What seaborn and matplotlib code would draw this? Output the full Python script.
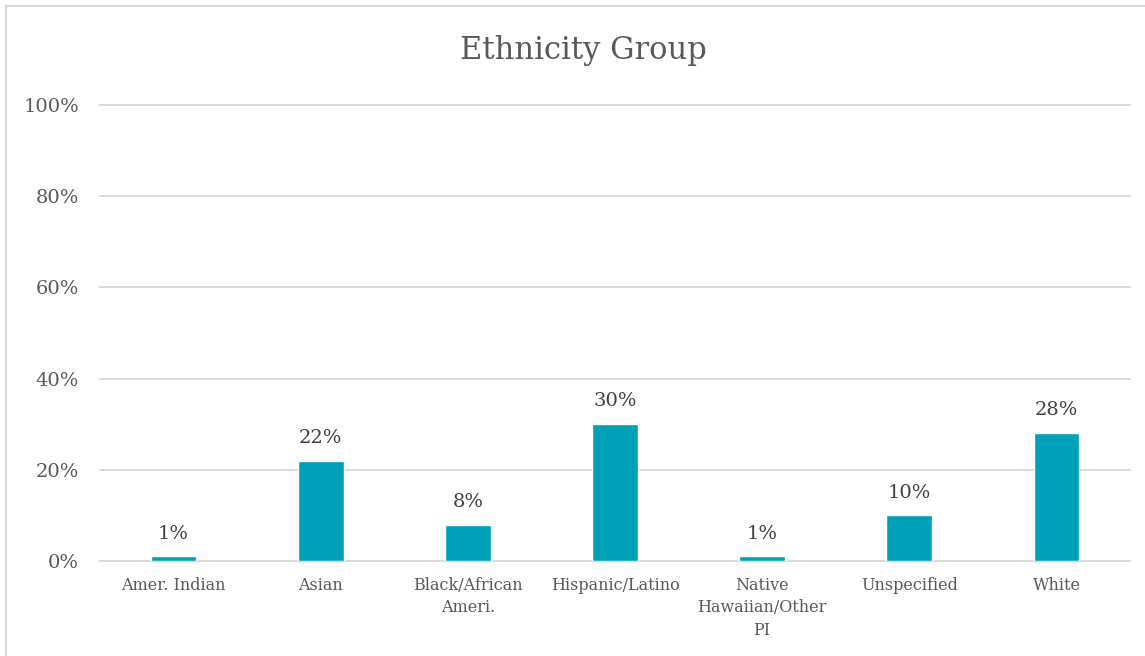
import matplotlib
matplotlib.use("Agg")
import matplotlib.pyplot as plt
from matplotlib.patches import Rectangle
import seaborn as sns
import pandas as pd

categories = ["Amer. Indian", "Asian", "Black/African\nAmeri.", "Hispanic/Latino",
              "Native\nHawaiian/Other\nPI", "Unspecified", "White"]
shares = [1, 22, 8, 30, 1, 10, 28]
ytick_values = [0, 20, 40, 60, 80, 100]

BAR = "#00A0B8"
TEXT = "#595959"
GRID = "#D9D9D9"

sns.set_theme(style="white")
plt.rcParams["font.family"] = ["DejaVu Serif"]

df = pd.DataFrame({"group": categories, "share": shares})

fig = plt.figure(figsize=(11.45, 6.56), dpi=100)
ax = fig.add_axes([100 / 1145, 1 - 561 / 656, 1030 / 1145, (561 - 105) / 656])

sns.barplot(data=df, x="group", y="share", color=BAR, saturation=1,
            width=0.31, ax=ax, zorder=3)

ax.set_ylim(0, 100)
ax.set_yticks(ytick_values)
ax.set_yticklabels([f"{v}%" for v in ytick_values], fontsize=14, color=TEXT)
ax.yaxis.grid(True, color=GRID, linewidth=1.4, zorder=0)
for gl in ax.get_ygridlines():
    gl.set_clip_on(False)
ax.set_axisbelow(True)
for s in ax.spines.values():
    s.set_visible(False)
ax.tick_params(axis="both", length=0)
ax.tick_params(axis="y", pad=15)
ax.tick_params(axis="x", pad=11.5)
for lab in ax.get_xticklabels():
    lab.set_fontsize(11.5)
    lab.set_color(TEXT)
    lab.set_linespacing(1.42)
    lab.set_verticalalignment("top")
ax.set_xlabel("")
ax.set_ylabel("")

for i, v in enumerate(shares):
    ax.annotate(f"{v}%", (i, v), xytext=(0, 10), textcoords="offset points",
                ha="center", va="bottom", fontsize=14, color="#404040")

fig.text(583 / 1145, 1 - 50 / 656, "Ethnicity Group", ha="center", va="center",
         fontsize=22, color=TEXT)

# outer chart frame
fig.patches.append(Rectangle((6 / 1145, -0.02), 1.1, 1 - 6 / 656 + 0.02,
                             transform=fig.transFigure, fill=False,
                             edgecolor=GRID, linewidth=1.5))

fig.savefig("out.png", dpi=100, facecolor="white")
